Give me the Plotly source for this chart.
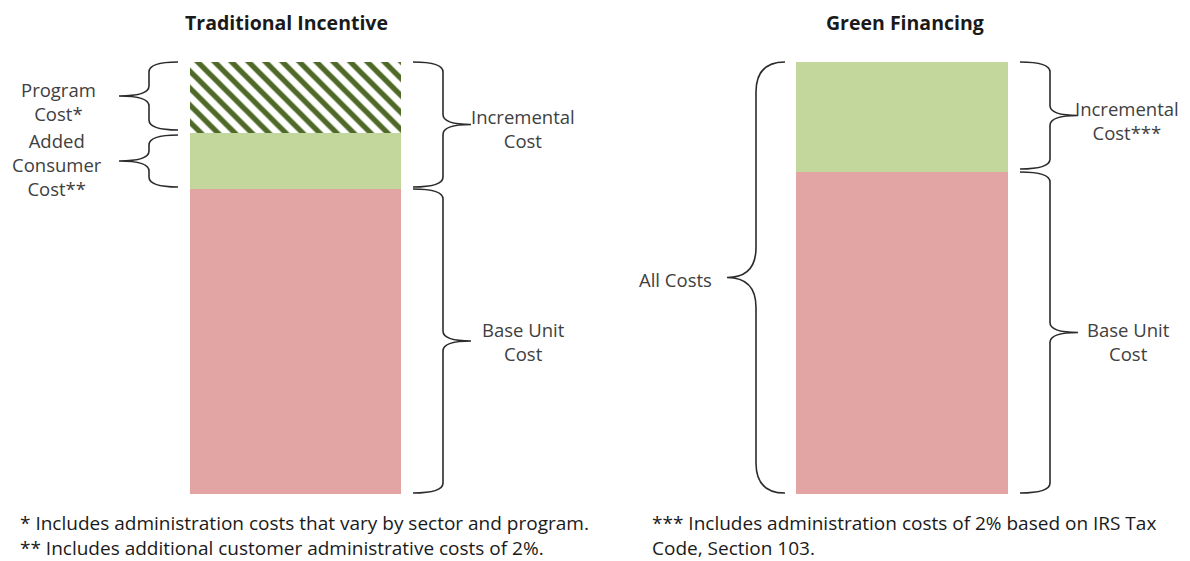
import plotly.graph_objects as go

# stacked cost pieces, heights (arbitrary units)
categories = ["Traditional Incentive", "Green Financing"]
base_cost = [305, 322]
green_cost = [56, 110]      # added consumer cost / incremental cost
program_cost = [71, 0]      # hatched program cost (traditional only)

footnotes_left = ["* Includes administration costs that vary by sector and program.",
                  "** Includes additional customer administrative costs of 2%."]
footnotes_right = ["*** Includes administration costs of 2% based on IRS Tax",
                   "Code, Section 103."]

W, H = 1190, 561
OFF = 8                            # page body margin
X0, XSTEP = 295.5 - OFF, 606.5     # first category centre (figure px), px per category
XR = [-X0 / XSTEP, (W - X0) / XSTEP]
YR = [-67 - OFF, 494 - OFF]
FONT = "Open Sans"
TXT = "#404040"
FS = 18.5


def px(p):
    # screen pixel -> x data value
    return (p - OFF - X0) / XSTEP


def brace(y_top, y_bot, x_end, x_spine, x_tip, r=10):
    ym = (y_top + y_bot) / 2
    e, s, t = px(x_end), px(x_spine), px(x_tip)
    return (f"M {e},{y_top} Q {s},{y_top} {s},{y_top - r} "
            f"L {s},{ym + r} Q {s},{ym} {t},{ym} "
            f"Q {s},{ym} {s},{ym - r} "
            f"L {s},{y_bot + r} Q {s},{y_bot} {e},{y_bot}")


fig = go.Figure()
fig.add_trace(go.Bar(x=categories, y=base_cost, name="Base Unit Cost",
                     marker=dict(color="#e3a5a4", line_width=0), width=0.348))
fig.add_trace(go.Bar(x=categories, y=green_cost, name="Incremental Cost",
                     marker=dict(color="#c3d69b", line_width=0), width=0.348))
fig.add_trace(go.Bar(x=categories, y=program_cost, name="Program Cost",
                     marker=dict(color="white", line_width=0,
                                 pattern=dict(shape="\\", fgcolor="#4f6a28", bgcolor="white",
                                              fgopacity=1, size=12, solidity=0.45)),
                     width=0.348))

# cumulative levels
t_base, r_base = base_cost
t_add = t_base + green_cost[0]
t_top = t_add + program_cost[0]
r_top = r_base + green_cost[1]

line = dict(color="#2b2b2b", width=1.6)
shapes = [
    brace(t_top, t_add + 3, 178, 149, 119),
    brace(t_add - 2, t_base + 2, 178, 149, 119),
    brace(t_top, t_base + 2, 413, 443, 471),
    brace(t_base, 1, 413, 443, 471),
    brace(r_top, 1, 785, 756, 727, r=30),
    brace(r_top, r_base + 3, 1020, 1050, 1078),
    brace(r_base, 1, 1020, 1050, 1078),
]
for p in shapes:
    fig.add_shape(type="path", path=p, xref="x", yref="y", line=line)

annotations = []


def label(lines, xpix, yc, anchor="center", size=FS, color=TXT, bold=False):
    s = "<br>".join(lines)
    annotations.append(dict(
        x=(xpix - OFF) / W, xref="paper", y=yc, yref="y",
        text=f"<b>{s}</b>" if bold else s, align=anchor if anchor != "right" else "right",
        showarrow=False, xanchor=anchor, yanchor="middle",
        font=dict(family=FONT, size=size, color=color)))


label([categories[0]], 286, 472, size=19.5, color="#1a1a1a", bold=True)
label([categories[1]], 905, 472, size=19.5, color="#1a1a1a", bold=True)
label(["Program", "Cost*"], 58, (t_add + t_top) / 2 - 4)
label(["Added", "Consumer", "Cost**"], 57, (t_base + t_add) / 2 - 3)
label(["Incremental", "Cost"], 523, (t_base + t_top) / 2 - 3)
label(["Base Unit", "Cost"], 523, t_base / 2)
label(["All Costs"], 714, r_top / 2 - 1, anchor="right")
label(["Incremental", "Cost***"], 1127, (r_base + r_top) / 2 - 3)
label(["Base Unit", "Cost"], 1128, t_base / 2)
label(footnotes_left, 18, -41, anchor="left", size=19, color="#1a1a1a")
label(footnotes_right, 650, -41, anchor="left", size=19, color="#1a1a1a")

fig.update_layout(
    width=W, height=H, barmode="stack", showlegend=False,
    margin=dict(l=0, r=0, t=0, b=0),
    paper_bgcolor="white", plot_bgcolor="white",
    annotations=annotations,
    xaxis=dict(range=XR, visible=False, fixedrange=True),
    yaxis=dict(range=YR, visible=False, fixedrange=True),
)

fig.write_html("out.html")
